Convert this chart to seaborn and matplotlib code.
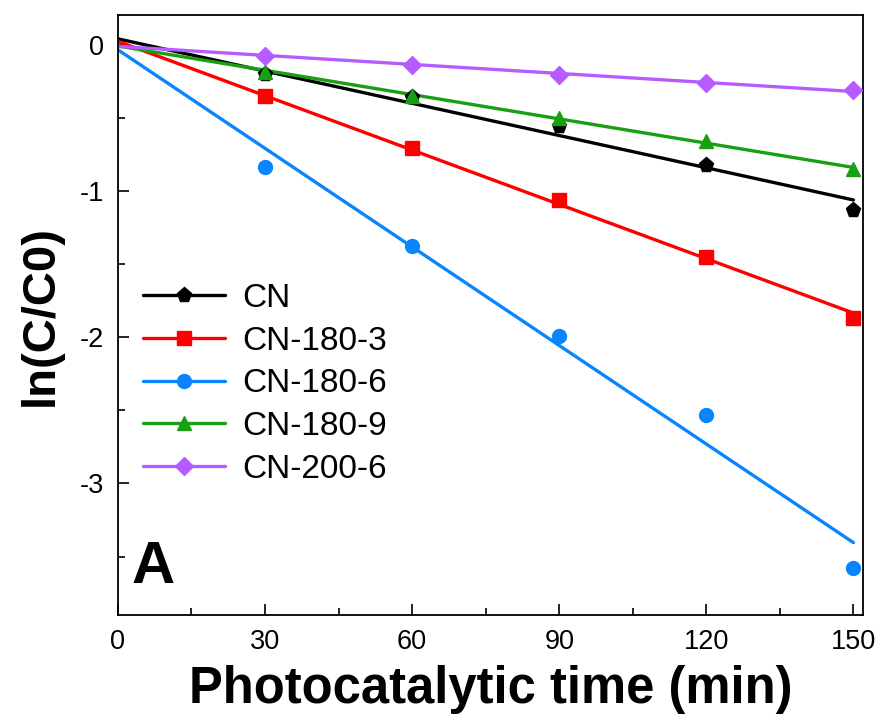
import numpy as np
import pandas as pd
import matplotlib
matplotlib.use("Agg")
import matplotlib.pyplot as plt
from matplotlib.lines import Line2D
from matplotlib.ticker import MultipleLocator
import seaborn as sns

time = [0, 30, 60, 90, 120, 150]
cn = [0, -0.20, -0.36, -0.56, -0.82, -1.13]
cn_180_3 = [0, -0.35, -0.71, -1.06, -1.45, -1.87]
cn_180_6 = [0, -0.84, -1.38, -1.99, -2.53, -3.58]
cn_180_9 = [0, -0.19, -0.35, -0.50, -0.66, -0.85]
cn_200_6 = [0, -0.08, -0.14, -0.21, -0.26, -0.31]

labels = ["CN", "CN-180-3", "CN-180-6", "CN-180-9", "CN-200-6"]
series = [cn, cn_180_3, cn_180_6, cn_180_9, cn_200_6]
colors = ["#000000", "#FF0000", "#0A84FF", "#18A012", "#B65CFF"]
markers = ["p", "s", "o", "^", "D"]
msizes = [11, 9.5, 10, 10.5, 9.5]

sns.set_style("ticks")
plt.rcParams['font.family'] = ['Liberation Sans', 'DejaVu Sans']
plt.rcParams['axes.unicode_minus'] = False
for k in ['text.color', 'axes.labelcolor', 'xtick.color', 'ytick.color']:
    plt.rcParams[k] = 'black'

fig = plt.figure(figsize=(8.8, 7.28), dpi=100)
ax = fig.add_axes([0.134, 0.155, 0.847, 0.824])

for lab, vals, c, m, ms in zip(labels, series, colors, markers, msizes):
    d = pd.DataFrame({"time": time, "val": vals})
    sns.regplot(data=d, x="time", y="val", ax=ax, ci=None, scatter=False,
                color=c, line_kws=dict(lw=2.4, solid_capstyle="round"))
    dp = d[d["time"] > 0]
    ax.plot(dp["time"], dp["val"], linestyle="none", marker=m, color=c,
            markersize=ms, zorder=4)

ax.set_xlim(0, 152)
ax.set_ylim(-3.9, 0.2)
ax.xaxis.set_major_locator(MultipleLocator(30))
ax.xaxis.set_minor_locator(MultipleLocator(15))
ax.yaxis.set_major_locator(MultipleLocator(1))
ax.yaxis.set_minor_locator(MultipleLocator(0.5))
ax.tick_params(which="both", direction="in", top=False, right=False, width=1.2, color="black")
ax.tick_params(which="major", length=8, labelsize=19.5, pad=10)
ax.tick_params(which="minor", length=5)
for s in ax.spines.values():
    s.set_visible(True)
    s.set_linewidth(1.3)
    s.set_color("black")

ax.set_xlabel("Photocatalytic time (min)", fontsize=36.5, fontweight="bold", labelpad=7)
ax.set_ylabel("ln(C/C0)", fontsize=34, fontweight="bold", labelpad=12)

handles = [Line2D([], [], color=c, marker=m, markersize=ms, lw=2.4)
           for c, m, ms in zip(colors, markers, msizes)]
ax.legend(handles, labels, loc="upper left", bbox_to_anchor=(0.016, 0.576),
          frameon=False, fontsize=24, handlelength=2.46, labelspacing=0.35,
          handletextpad=0.51, borderaxespad=0)

ax.text(0.018, 0.053, "A", transform=ax.transAxes, fontsize=43, fontweight="bold",
        va="baseline", ha="left")

fig.savefig("out.png", dpi=100)
